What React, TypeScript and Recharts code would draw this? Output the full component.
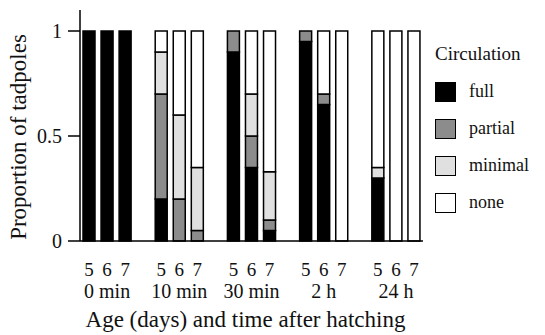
import { BarChart, Bar, XAxis, YAxis, Legend } from 'recharts';

// bar order: age 5, 6, 7 days within each time-after-hatching group
const groups = ['0 min', '10 min', '30 min', '2 h', '24 h'];
const days = ['5', '6', '7'];

const full = [1, 1, 1, 0.2, 0, 0, 0.9, 0.35, 0.05, 0.95, 0.65, 0, 0.3, 0, 0];
const partial = [0, 0, 0, 0.5, 0.2, 0.05, 0.1, 0.15, 0.05, 0.05, 0.05, 0, 0, 0, 0];
const minimal = [0, 0, 0, 0.2, 0.4, 0.3, 0, 0.2, 0.23, 0, 0, 0, 0.05, 0, 0];
const none = [0, 0, 0, 0.1, 0.4, 0.65, 0, 0.3, 0.67, 0, 0.3, 1, 0.65, 1, 1];

const yTicks = [0, 0.5, 1];

const series = [
  { key: 'full', name: 'full', fill: '#000000' },
  { key: 'partial', name: 'partial', fill: '#8c8c8c' },
  { key: 'minimal', name: 'minimal', fill: '#e0e0e0' },
  { key: 'none', name: 'none', fill: '#ffffff' },
];

const FONT = "'Liberation Serif', 'Times New Roman', serif";
const INK = '#111';

// one row per bar, with an empty spacer row between groups
const rows: any[] = [];
groups.forEach((g, gi) => {
  if (gi > 0) rows.push({ key: `gap${gi}`, day: '', group: '' });
  days.forEach((d, di) => {
    const i = gi * 3 + di;
    rows.push({
      key: `${g}-${d}`,
      day: d,
      group: di === 1 ? g : '',
      full: full[i],
      partial: partial[i],
      minimal: minimal[i],
      none: none[i],
    });
  });
});

const DayTick = ({ x, payload }: any) => {
  const row = rows.find(r => r.key === payload.value);
  if (!row) return null;
  return (
    <g>
      <text x={x} y={276} textAnchor="middle" fontSize={19} fontFamily={FONT} fill={INK}>
        {row.day}
      </text>
      {row.group && (
        <text x={x} y={298} textAnchor="middle" fontSize={20} fontFamily={FONT} fill={INK}>
          {row.group}
        </text>
      )}
    </g>
  );
};

const LegendBox = () => (
  <div style={{ fontFamily: FONT, color: INK }}>
    <div style={{ fontSize: 19, lineHeight: '22px', marginTop: 3, marginBottom: 8 }}>Circulation</div>
    {series.map(s => (
      <div key={s.key} style={{ display: 'flex', alignItems: 'center', height: 37 }}>
        <div
          style={{
            width: 19,
            height: 18,
            background: s.fill,
            border: '1.5px solid #000',
            marginRight: 13,
          }}
        />
        <span style={{ fontSize: 18 }}>{s.name}</span>
      </div>
    ))}
  </div>
);

export default function App() {
  return (
    <div style={{ position: 'absolute', left: 0, top: 0, background: '#fff' }}>
      <BarChart
        width={545}
        height={335}
        data={rows}
        margin={{ top: 10, right: 122, bottom: 0, left: 0 }}
        barSize={12}
      >
        <XAxis
          dataKey="key"
          height={94}
          interval={0}
          tickLine={false}
          axisLine={{ stroke: '#000', strokeWidth: 1.5 }}
          tick={<DayTick />}
          label={{
            content: ({ viewBox }: any) => (
              <text
                x={viewBox.x + viewBox.width / 2 - 6}
                y={327}
                textAnchor="middle"
                fontSize={23}
                fontFamily={FONT}
                fill={INK}
              >
                Age (days) and time after hatching
              </text>
            ),
          }}
        />
        <YAxis
          width={80}
          domain={[0, 1.1]}
          ticks={yTicks}
          tickSize={12}
          tickMargin={6}
          axisLine={{ stroke: '#000', strokeWidth: 1.5 }}
          tickLine={{ stroke: '#000', strokeWidth: 1.5 }}
          tick={{ fontSize: 20, fontFamily: FONT, fill: INK }}
          label={{
            content: () => (
              <text
                x={18}
                y={137}
                transform="rotate(-90 18 137)"
                textAnchor="middle"
                dominantBaseline="central"
                fontSize={23}
                fontFamily={FONT}
                fill={INK}
              >
                Proportion of tadpoles
              </text>
            ),
          }}
        />
        <Legend
          layout="horizontal"
          align="center"
          verticalAlign="middle"
          content={<LegendBox />}
          wrapperStyle={{ left: 435, top: 40, width: 110, height: 180 }}
        />
        {series.map(s => (
          <Bar
            key={s.key}
            dataKey={s.key}
            name={s.name}
            stackId="circ"
            fill={s.fill}
            stroke="#000"
            strokeWidth={1.5}
            isAnimationActive={false}
          />
        ))}
      </BarChart>
    </div>
  );
}
